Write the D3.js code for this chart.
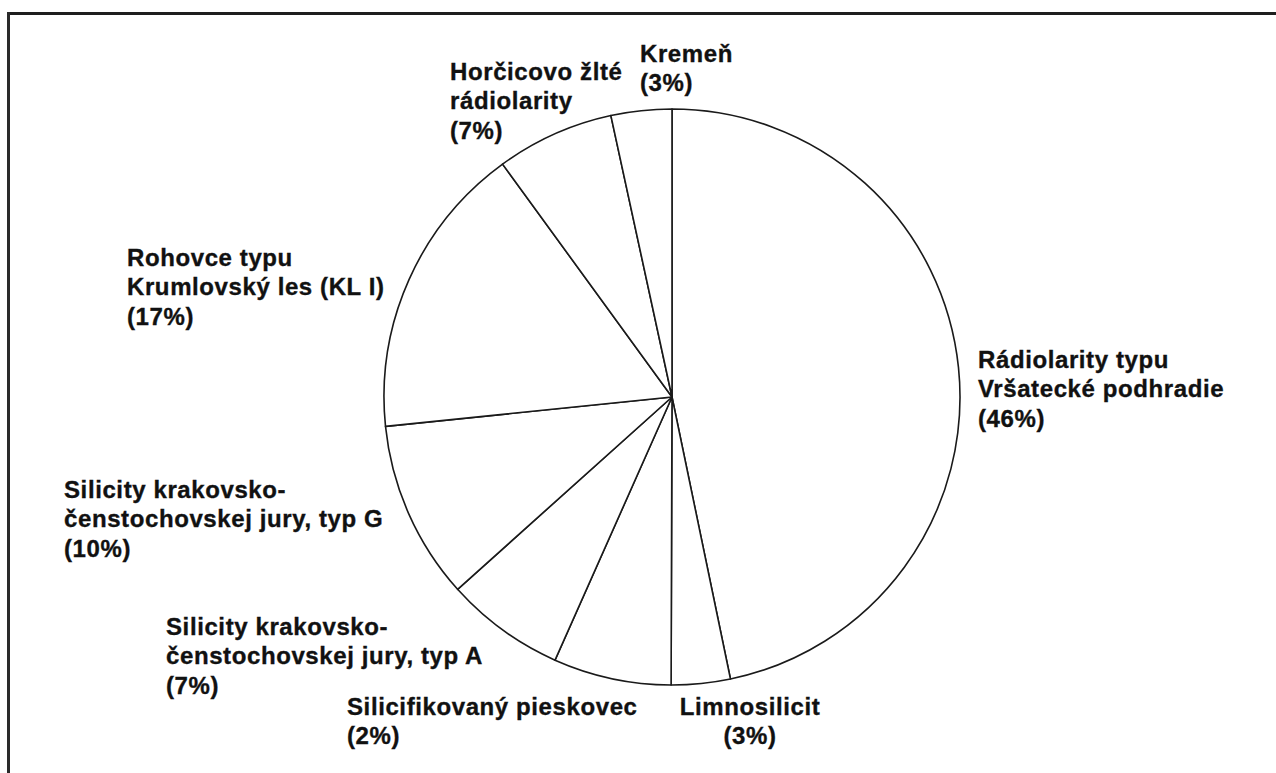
<!DOCTYPE html>
<html>
<head>
<meta charset="utf-8">
<script src="https://cdn.jsdelivr.net/npm/d3@7"></script>
<style>
  body { margin: 0; background: #fff; }
  text { font-family: "Liberation Sans", Arial, sans-serif; font-weight: bold; fill: #111; stroke: #111; stroke-width: 0.35px; }
</style>
</head>
<body>
<div class="chart"></div>
<script>
// categories (clockwise from 12 o'clock)
const categories = [
    "Rádiolarity typu Vršatecké podhradie",
    "Limnosilicit",
    "Silicifikovaný pieskovec",
    "Silicity krakovsko-čenstochovskej jury, typ A",
    "Silicity krakovsko-čenstochovskej jury, typ G",
    "Rohovce typu Krumlovský les (KL I)",
    "Horčicovo žlté rádiolarity",
    "Kremeň"
];
// slice sizes as drawn in the picture (%)
const shares = [46.7, 3.3, 6.6, 6.7, 10.0, 16.6, 6.6, 3.4];
// percentages as printed in the labels
const pctLabels = ["46%", "3%", "2%", "7%", "10%", "17%", "7%", "3%"];
// how each label breaks into lines
const labelLines = [
    ["Rádiolarity typu", "Vršatecké podhradie"],
    ["Limnosilicit"],
    ["Silicifikovaný pieskovec"],
    ["Silicity krakovsko-", "čenstochovskej jury, typ A"],
    ["Silicity krakovsko-", "čenstochovskej jury, typ G"],
    ["Rohovce typu", "Krumlovský les (KL I)"],
    ["Horčicovo žlté", "rádiolarity"],
    ["Kremeň"]
];

// レイアウト
const W = 1276, H = 773;
const cx = 672, cy = 397, R = 288;
const lineH = 29.3;
// label anchor: x, baseline of first line, text-anchor
const labelPos = [
    { x: 978, y: 368, anchor: "start" },
    { x: 750, y: 715, anchor: "middle" },
    { x: 347, y: 715, anchor: "start" },
    { x: 166, y: 635, anchor: "start" },
    { x: 64, y: 498, anchor: "start" },
    { x: 127, y: 266, anchor: "start" },
    { x: 450, y: 80, anchor: "start" },
    { x: 640, y: 62, anchor: "start" }
];

const svg = d3.select(".chart")
    .append("svg")
    .attr("width", W)
    .attr("height", H);

// 枠線 (top and left only)
svg.append("line")
    .attr("x1", 7).attr("x2", W)
    .attr("y1", 13.5).attr("y2", 13.5)
    .attr("stroke", "#1e1e1e").attr("stroke-width", 3);
svg.append("line")
    .attr("x1", 8.5).attr("x2", 8.5)
    .attr("y1", 12).attr("y2", H)
    .attr("stroke", "#2a2a2a").attr("stroke-width", 3);

const pie = d3.pie().sort(null).value(d => d);
const arc = d3.arc().innerRadius(0).outerRadius(R);

const g = svg.append("g").attr("transform", `translate(${cx},${cy})`);
g.selectAll("path")
    .data(pie(shares))
    .enter()
    .append("path")
    .attr("d", arc)
    .attr("fill", "#fff")
    .attr("stroke", "#1a1a1a")
    .attr("stroke-width", 1.6)
    .attr("stroke-linejoin", "round");

// ラベル
categories.forEach((c, i) => {
    const p = labelPos[i];
    const lines = labelLines[i].concat([`(${pctLabels[i]})`]);
    const t = svg.append("text")
        .attr("x", p.x)
        .attr("y", p.y)
        .attr("text-anchor", p.anchor)
        .style("font-size", "24px")
        .style("letter-spacing", "0.6px");
    lines.forEach((l, k) => {
        t.append("tspan")
            .attr("x", p.x)
            .attr("y", p.y + k * lineH)
            .text(l);
    });
});
</script>
</body>
</html>
